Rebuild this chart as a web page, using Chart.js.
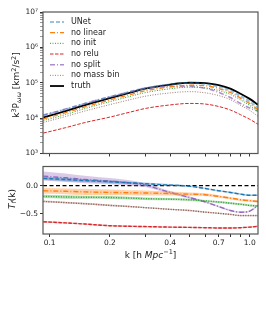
<!doctype html>
<html lang="en">
  <head>
    <meta charset="utf-8">
    <title>Vorticity power spectrum ablations</title>
    <style>
      * { margin: 0; padding: 0; }
      body { background: white; }
      .wrap { position: relative; width: 266px; height: 319px; }
      #topChart { position: absolute; left: 0; top: 0; }
      #botChart { position: absolute; left: 0; top: 160px; }
    </style>
  </head>
  <body>
    <div class="wrap">
      <canvas id="topChart" width="266" height="160"></canvas>
      <canvas id="botChart" width="266" height="110"></canvas>
    </div>
    <script src="https://cdn.jsdelivr.net/npm/chart.js/dist/chart.umd.min.js"></script>
    <script>
    // k values (h/Mpc)
    const kVals = [0.093, 0.12, 0.15, 0.2, 0.25, 0.3, 0.4, 0.5, 0.6, 0.7, 0.8, 0.9, 1.0, 1.1];

    // top panel: k^3 P (km^2/s^2)
    const pTruth    = [10500, 15800, 23400, 37000, 52000, 68000, 89000, 100000, 98000, 85000, 68000, 49000, 35000, 24000];
    const pUNet     = [11900, 17500, 25500, 39600, 54600, 70400, 89900, 99000, 93100, 77400, 59800, 41700, 29100, 19900];
    const pNoLinear = [9560, 14200, 20800, 32600, 45500, 59200, 76500, 85000, 82300, 68900, 53000, 36800, 25700, 17300];
    const pNoInit   = [8500, 12600, 18600, 29200, 40600, 52400, 67600, 75000, 71500, 60400, 46900, 32800, 22800, 15400];
    const pNoRelu   = [3780, 5370, 7490, 10700, 14600, 18700, 23600, 26000, 25000, 21300, 17000, 12500, 9280, 6720];
    const pNoSplit  = [12300, 18000, 26000, 40000, 54600, 68700, 78300, 79000, 69600, 53600, 38100, 26000, 19300, 15600];
    const pNoMass   = [7560, 11100, 15900, 24100, 32800, 41500, 51600, 56000, 51900, 43400, 33300, 23000, 16500, 11300];

    // bottom panel: transfer function T_f(k)
    const tUNet     = [0.13, 0.11, 0.09, 0.07, 0.05, 0.035, 0.01, -0.01, -0.05, -0.09, -0.12, -0.15, -0.17, -0.17];
    const tNoLinear = [-0.09, -0.10, -0.11, -0.12, -0.125, -0.13, -0.14, -0.15, -0.16, -0.19, -0.22, -0.25, -0.265, -0.28];
    const tNoInit   = [-0.19, -0.20, -0.205, -0.21, -0.22, -0.23, -0.24, -0.25, -0.27, -0.29, -0.31, -0.33, -0.35, -0.36];
    const tNoRelu   = [-0.64, -0.66, -0.68, -0.71, -0.72, -0.725, -0.735, -0.74, -0.745, -0.75, -0.75, -0.745, -0.735, -0.72];
    const tNoSplit  = [0.17, 0.14, 0.11, 0.08, 0.05, 0.01, -0.12, -0.21, -0.29, -0.37, -0.44, -0.47, -0.45, -0.35];
    const tNoMass   = [-0.28, -0.30, -0.32, -0.35, -0.37, -0.39, -0.42, -0.44, -0.47, -0.49, -0.51, -0.53, -0.53, -0.53];

    // half widths of the shaded spread
    const wUNet     = [0.03, 0.03, 0.025, 0.025, 0.02, 0.02, 0.018, 0.015, 0.015, 0.015, 0.015, 0.015, 0.015, 0.015];
    const wNoLinear = [0.055, 0.05, 0.055, 0.05, 0.045, 0.045, 0.035, 0.03, 0.025, 0.022, 0.02, 0.02, 0.02, 0.02];
    const wNoInit   = [0.03, 0.03, 0.028, 0.027, 0.025, 0.022, 0.02, 0.02, 0.018, 0.018, 0.018, 0.018, 0.018, 0.018];
    const wNoRelu   = [0.012, 0.012, 0.012, 0.012, 0.012, 0.012, 0.012, 0.012, 0.012, 0.012, 0.012, 0.012, 0.012, 0.012];
    const wNoSplit  = [0.08, 0.075, 0.065, 0.055, 0.045, 0.035, 0.025, 0.02, 0.015, 0.015, 0.015, 0.015, 0.015, 0.015];
    const wNoMass   = [0.015, 0.015, 0.015, 0.014, 0.013, 0.012, 0.012, 0.012, 0.012, 0.012, 0.012, 0.012, 0.012, 0.012];

    const kTicks = [0.1, 0.2, 0.3, 0.4, 0.5, 0.6, 0.7, 0.8, 0.9, 1.0];
    const kLabels = [0.1, 0.2, 0.4, 0.7, 1.0];
    const tTicks = [0, -0.5];

    const FONT = 'DejaVu Sans';

    const styles = [
      { label: 'UNet', color: 'rgba(31,119,180,0.45)', line: '#1f77b4', width: 2, dash: [4, 2], p: pUNet, t: tUNet, w: wUNet },
      { label: 'no linear', color: '#ff7f0e', line: '#ff7f0e', width: 1.3, dash: [5, 2, 1, 2], p: pNoLinear, t: tNoLinear, w: wNoLinear },
      { label: 'no init', color: '#2ca02c', line: '#2ca02c', width: 1, dash: [1, 1.5], p: pNoInit, t: tNoInit, w: wNoInit },
      { label: 'no relu', color: '#d62728', line: '#d62728', width: 1, dash: [3.5, 1.5], p: pNoRelu, t: tNoRelu, w: wNoRelu },
      { label: 'no split', color: 'rgba(148,103,189,0.75)', line: '#9467bd', width: 1.6, dash: [5, 2, 1, 2], p: pNoSplit, t: tNoSplit, w: wNoSplit },
      { label: 'no mass bin', color: 'rgba(140,86,75,0.8)', line: '#8c564b', width: 1, dash: [1, 1.5], p: pNoMass, t: tNoMass, w: wNoMass },
      { label: 'truth', color: '#000', line: '#000', width: 1.8, dash: [], p: pTruth }
    ];

    const toPts = (ys) => ys.map((y, i) => ({ x: kVals[i], y: y }));

    // draw text with super/subscripts, centred on (x, y)
    function drawRich(ctx, parts, x, y, rot) {
      ctx.save();
      ctx.translate(x, y);
      if (rot) ctx.rotate(-Math.PI / 2);
      let total = 0;
      parts.forEach(p => { ctx.font = p.f; p.wd = ctx.measureText(p.t).width; total += p.wd; });
      let cx = -total / 2;
      ctx.fillStyle = '#222';
      ctx.textBaseline = 'middle';
      parts.forEach(p => { ctx.font = p.f; ctx.fillText(p.t, cx, p.dy || 0); cx += p.wd; });
      ctx.restore();
    }

    const frame = {
      id: 'frame',
      afterDraw(chart, args, opts) {
        const a = chart.chartArea, ctx = chart.ctx;
        ctx.save();
        ctx.strokeStyle = '#555';
        ctx.lineWidth = 1.2;
        ctx.strokeRect(a.left, a.top, a.right - a.left, a.bottom - a.top);
        ctx.restore();
        if (opts.draw) opts.draw(chart);
      }
    };

    const xScale = (showLabels, height) => ({
      type: 'logarithmic',
      min: 0.0926, max: 1.1,
      afterBuildTicks: s => { s.ticks = kTicks.map(v => ({ value: v })); },
      afterFit: s => { s.height = height; },
      grid: { drawOnChartArea: false, tickLength: 3, color: '#333' },
      border: { display: false },
      ticks: {
        display: showLabels, padding: 2, autoSkip: false, maxRotation: 0,
        color: '#222', font: { family: FONT, size: 7.5 },
        callback: v => kLabels.some(l => Math.abs(l - v) < 1e-6) ? v.toFixed(1) : ''
      }
    });

    // top panel
    const topSets = styles.map(s => ({
      label: s.label, data: toPts(s.p),
      borderColor: s.color, borderWidth: s.width, borderDash: s.dash,
      pointRadius: 0, cubicInterpolationMode: 'monotone', fill: false
    }));

    const supers = { 3: '³', 4: '⁴', 5: '⁵', 6: '⁶', 7: '⁷' };

    new Chart(document.getElementById('topChart'), {
      type: 'line',
      data: { datasets: topSets },
      options: {
        responsive: false, animation: false,
        layout: { padding: { top: 12, right: 8, left: 0, bottom: 0 } },
        plugins: {
          legend: { display: false }, tooltip: { enabled: false },
          frame: {
            draw: chart => {
              const ctx = chart.ctx;
              const big = '9px ' + FONT, small = '6.5px ' + FONT, smallI = 'italic 6.5px ' + FONT;
              drawRich(ctx, [
                { t: 'k', f: big }, { t: '3', f: small, dy: -3 }, { t: 'P', f: big },
                { t: 'ωω', f: smallI, dy: 2 }, { t: ' [km', f: big }, { t: '2', f: small, dy: -3 },
                { t: '/s', f: big }, { t: '2', f: small, dy: -3 }, { t: ']', f: big }
              ], 17, 85, true);
              // legend
              ctx.save();
              styles.forEach((s, i) => {
                const y = 22 + i * 10.67;
                ctx.beginPath();
                ctx.strokeStyle = s.color; ctx.lineWidth = s.width; ctx.setLineDash(s.dash);
                ctx.moveTo(50, y); ctx.lineTo(64, y); ctx.stroke();
                ctx.setLineDash([]);
                ctx.fillStyle = '#222'; ctx.font = '8px ' + FONT; ctx.textBaseline = 'middle';
                ctx.fillText(s.label, 71, y);
              });
              ctx.restore();
            }
          }
        },
        scales: {
          x: xScale(false, 6),
          y: {
            type: 'logarithmic', min: 1000, max: 10000000,
            afterBuildTicks: s => {
              const t = [];
              for (let e = 3; e < 7; e++) for (let m = 1; m < 10; m++) t.push({ value: m * Math.pow(10, e) });
              t.push({ value: 1e7 });
              s.ticks = t;
            },
            afterFit: s => { s.width = 43; },
            grid: {
              drawOnChartArea: false, tickLength: 3, color: '#333',
              tickWidth: c => { const v = c.tick && c.tick.value; return v && Math.abs(Math.log10(v) % 1) < 1e-6 ? 1 : 0.5; }
            },
            border: { display: false },
            ticks: {
              padding: 2, autoSkip: false, color: '#222', font: { family: FONT, size: 7.5 },
              callback: v => { const e = Math.round(Math.log10(v)); return Math.abs(Math.log10(v) - e) < 1e-6 ? '10' + supers[e] : ''; }
            }
          }
        }
      },
      plugins: [frame]
    });

    // bottom panel
    const botSets = [];
    styles.slice(0, 6).forEach(s => {
      const band = s.line + '59';
      botSets.push({ data: toPts(s.t.map((v, i) => v + s.w[i])), borderWidth: 0, pointRadius: 0, cubicInterpolationMode: 'monotone', backgroundColor: band, fill: '+1' });
      botSets.push({ data: toPts(s.t.map((v, i) => v - s.w[i])), borderWidth: 0, pointRadius: 0, cubicInterpolationMode: 'monotone', fill: false });
      botSets.push({ data: toPts(s.t), borderColor: s.line, borderWidth: 1.4, borderDash: s.dash, pointRadius: 0, cubicInterpolationMode: 'monotone', fill: false });
    });
    botSets.push({ data: [{ x: 0.0926, y: 0 }, { x: 1.1, y: 0 }], borderColor: '#000', borderWidth: 1.3, borderDash: [4, 2.5], pointRadius: 0, fill: false });

    new Chart(document.getElementById('botChart'), {
      type: 'line',
      data: { datasets: botSets },
      options: {
        responsive: false, animation: false,
        layout: { padding: { top: 5, right: 8, left: 0, bottom: 0 } },
        plugins: {
          legend: { display: false }, tooltip: { enabled: false },
          frame: {
            draw: chart => {
              const ctx = chart.ctx;
              const big = '9px ' + FONT, bigI = 'italic 9px ' + FONT, smallI = 'italic 6.5px ' + FONT, small = '6.5px ' + FONT;
              drawRich(ctx, [{ t: 'T', f: bigI }, { t: 'f', f: smallI, dy: 2 }, { t: '(k)', f: big }], 12.7, 39, true);
              drawRich(ctx, [{ t: 'k [h ', f: big }, { t: 'Mpc', f: bigI }, { t: '−1', f: small, dy: -3 }, { t: ']', f: big }], 150.5, 95.7, false);
            }
          }
        },
        scales: {
          x: xScale(true, 36),
          y: {
            type: 'linear', min: -0.857, max: 0.34,
            afterBuildTicks: s => { s.ticks = tTicks.map(v => ({ value: v })); },
            afterFit: s => { s.width = 43; },
            grid: { drawOnChartArea: false, tickLength: 3, color: '#333' },
            border: { display: false },
            ticks: {
              padding: 2, color: '#222', font: { family: FONT, size: 7.5 },
              callback: v => v === 0 ? '0.0' : '−' + Math.abs(v).toFixed(1)
            }
          }
        }
      },
      plugins: [frame]
    });
    </script>
  </body>
</html>
